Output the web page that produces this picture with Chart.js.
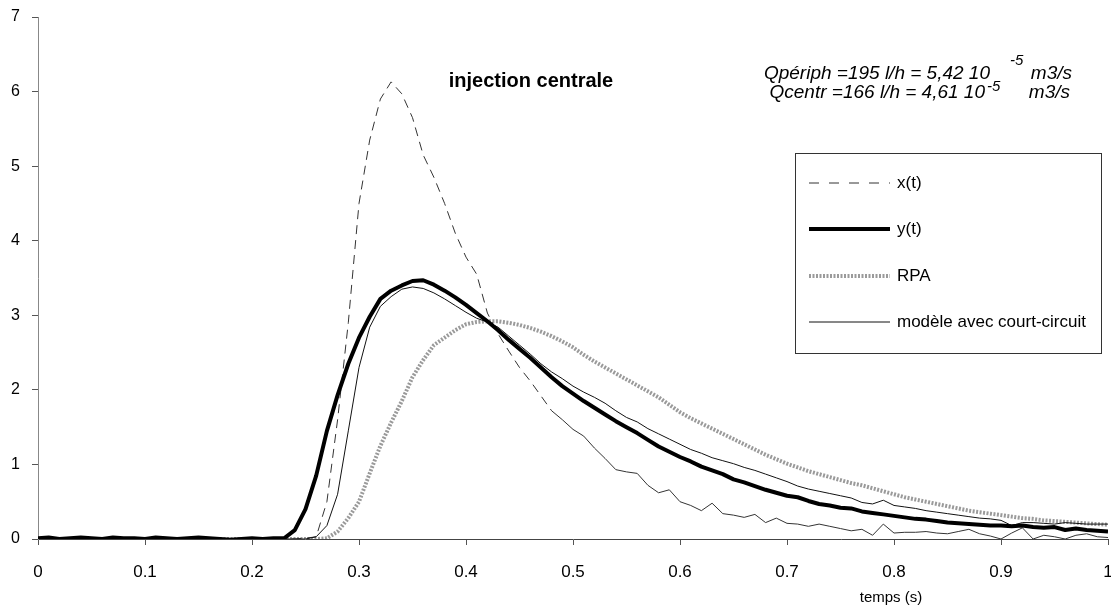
<!DOCTYPE html>
<html>
<head>
<meta charset="utf-8">
<script src="https://cdn.jsdelivr.net/npm/chart.js@4.4.1/dist/chart.umd.min.js"></script>
<style>
  html, body { margin: 0; padding: 0; background: #fff; }
  #c { display: block; }
</style>
</head>
<body>
<canvas id="c" width="1111" height="611"></canvas>
<script>
// time axis (s)
const temps = [
  0.00, 0.01, 0.02, 0.03, 0.04, 0.05, 0.06, 0.07, 0.08, 0.09,
  0.10, 0.11, 0.12, 0.13, 0.14, 0.15, 0.16, 0.17, 0.18, 0.19,
  0.20, 0.21, 0.22, 0.23, 0.24, 0.25, 0.26, 0.27, 0.28, 0.29,
  0.30, 0.31, 0.32, 0.33, 0.34, 0.35, 0.36, 0.37, 0.38, 0.39,
  0.40, 0.41, 0.42, 0.43, 0.44, 0.45, 0.46, 0.47, 0.48, 0.49,
  0.50, 0.51, 0.52, 0.53, 0.54, 0.55, 0.56, 0.57, 0.58, 0.59,
  0.60, 0.61, 0.62, 0.63, 0.64, 0.65, 0.66, 0.67, 0.68, 0.69,
  0.70, 0.71, 0.72, 0.73, 0.74, 0.75, 0.76, 0.77, 0.78, 0.79,
  0.80, 0.81, 0.82, 0.83, 0.84, 0.85, 0.86, 0.87, 0.88, 0.89,
  0.90, 0.91, 0.92, 0.93, 0.94, 0.95, 0.96, 0.97, 0.98, 0.99,
  1.00
];

// x(t) - signal d'entree
const xt = [
  0.02, 0.01, 0.00, 0.01, 0.00, 0.01, 0.02, 0.00, 0.01, 0.00,
  0.01, 0.00, 0.01, 0.02, 0.00, 0.01, 0.00, 0.01, 0.00, 0.01,
  0.00, 0.01, 0.00, 0.01, 0.00, 0.01, 0.03, 0.50, 1.60, 2.90,
  4.50, 5.35, 5.90, 6.13, 5.97, 5.65, 5.15, 4.85, 4.50, 4.10,
  3.78, 3.55, 3.03, 2.75, 2.52, 2.30, 2.12, 1.92, 1.72, 1.60,
  1.47, 1.38, 1.22, 1.08, 0.93, 0.90, 0.88, 0.72, 0.62, 0.66,
  0.50, 0.45, 0.38, 0.48, 0.34, 0.32, 0.29, 0.33, 0.22, 0.28,
  0.21, 0.20, 0.17, 0.20, 0.17, 0.14, 0.11, 0.13, 0.05, 0.20,
  0.08, 0.09, 0.09, 0.10, 0.08, 0.07, 0.10, 0.13, 0.07, 0.04,
  0.00, 0.08, 0.15, 0.00, 0.05, 0.03, 0.00, 0.05, 0.07, 0.03,
  0.02
];

// y(t) - signal de sortie
const yt = [
  0.01, 0.02, 0.00, 0.01, 0.02, 0.01, 0.00, 0.02, 0.01, 0.01,
  0.00, 0.02, 0.01, 0.00, 0.01, 0.02, 0.01, 0.00, -0.01, 0.00,
  0.01, 0.00, 0.01, 0.01, 0.12, 0.40, 0.85, 1.45, 1.93, 2.35,
  2.70, 2.98, 3.22, 3.33, 3.40, 3.46, 3.47, 3.41, 3.33, 3.24,
  3.14, 3.03, 2.92, 2.80, 2.67, 2.55, 2.43, 2.30, 2.17, 2.05,
  1.95, 1.85, 1.76, 1.67, 1.58, 1.50, 1.42, 1.33, 1.24, 1.17,
  1.10, 1.04, 0.97, 0.92, 0.87, 0.80, 0.76, 0.71, 0.66, 0.62,
  0.58, 0.56, 0.51, 0.47, 0.45, 0.42, 0.41, 0.37, 0.35, 0.33,
  0.31, 0.29, 0.27, 0.26, 0.24, 0.22, 0.21, 0.20, 0.19, 0.18,
  0.18, 0.17, 0.18, 0.16, 0.15, 0.16, 0.12, 0.14, 0.12, 0.11,
  0.10
];

// RPA
const rpa = [
  0.00, 0.00, 0.00, 0.00, 0.00, 0.00, 0.00, 0.00, 0.00, 0.00,
  0.00, 0.00, 0.00, 0.00, 0.00, 0.00, 0.00, 0.00, 0.00, 0.00,
  0.00, 0.00, 0.00, 0.00, 0.00, 0.00, 0.00, 0.01, 0.10, 0.28,
  0.50, 0.88, 1.25, 1.56, 1.85, 2.17, 2.40, 2.60, 2.70, 2.80,
  2.88, 2.91, 2.92, 2.92, 2.90, 2.87, 2.83, 2.78, 2.72, 2.65,
  2.57, 2.47, 2.38, 2.30, 2.22, 2.14, 2.06, 1.98, 1.90, 1.80,
  1.70, 1.62, 1.55, 1.48, 1.41, 1.34, 1.27, 1.20, 1.13, 1.07,
  1.01, 0.96, 0.91, 0.87, 0.83, 0.79, 0.75, 0.72, 0.68, 0.64,
  0.60, 0.56, 0.53, 0.50, 0.47, 0.44, 0.41, 0.38, 0.36, 0.34,
  0.32, 0.30, 0.28, 0.27, 0.25, 0.24, 0.23, 0.22, 0.21, 0.20,
  0.19
];

// modele avec court-circuit
const modele = [
  0.00, 0.00, 0.00, 0.00, 0.00, 0.00, 0.00, 0.00, 0.00, 0.00,
  0.00, 0.00, 0.00, 0.00, 0.00, 0.00, 0.00, 0.00, 0.00, 0.00,
  0.00, 0.00, 0.00, 0.00, 0.00, 0.00, 0.03, 0.18, 0.60, 1.45,
  2.30, 2.84, 3.12, 3.25, 3.35, 3.38, 3.36, 3.30, 3.22, 3.13,
  3.04, 2.96, 2.91, 2.84, 2.72, 2.60, 2.48, 2.35, 2.24, 2.15,
  2.05, 1.97, 1.90, 1.82, 1.72, 1.63, 1.57, 1.48, 1.41, 1.34,
  1.27, 1.20, 1.15, 1.09, 1.05, 1.01, 0.96, 0.92, 0.87, 0.82,
  0.77, 0.71, 0.67, 0.64, 0.61, 0.58, 0.55, 0.49, 0.47, 0.52,
  0.45, 0.43, 0.41, 0.38, 0.36, 0.34, 0.32, 0.30, 0.28, 0.27,
  0.25, 0.18, 0.22, 0.22, 0.21, 0.20, 0.22, 0.21, 0.20, 0.20,
  0.20
];

const yTicks = [0, 1, 2, 3, 4, 5, 6, 7];
const xTicks = ['0', '0.1', '0.2', '0.3', '0.4', '0.5', '0.6', '0.7', '0.8', '0.9', '1'];

const legendLabels = ['x(t)', 'y(t)', 'RPA', 'modèle avec court-circuit'];

const FONT = 'Arial, "Liberation Sans", sans-serif';

function pts(vals) {
  return temps.map((t, i) => ({ x: t, y: vals[i] }));
}

// styles
const styles = [
  { color: '#333', width: 1, dash: [9, 6] },
  { color: '#000', width: 4, dash: [] },
  { color: '#9a9a9a', width: 4, dash: [2, 1.5] },
  { color: '#111', width: 1, dash: [] }
];

// legend box + texts drawn on top
const annotations = {
  id: 'annotations',
  afterDraw(chart) {
    const ctx = chart.ctx;
    ctx.save();

    // legend box
    ctx.strokeStyle = '#333';
    ctx.lineWidth = 1;
    ctx.setLineDash([]);
    ctx.strokeRect(795.5, 153.5, 306, 200);
    const rows = [183, 229, 276, 322];
    legendLabels.forEach((lab, i) => {
      const s = styles[i];
      ctx.beginPath();
      ctx.strokeStyle = s.color;
      ctx.lineWidth = s.width;
      ctx.setLineDash(i === 0 ? [10, 10] : s.dash);
      ctx.moveTo(809, rows[i]);
      ctx.lineTo(890, rows[i]);
      ctx.stroke();
      ctx.setLineDash([]);
      ctx.fillStyle = '#000';
      ctx.font = '17px ' + FONT;
      ctx.textBaseline = 'middle';
      ctx.textAlign = 'left';
      ctx.fillText(lab, 897, rows[i]);
    });

    // title in plot
    ctx.font = 'bold 20px ' + FONT;
    ctx.textAlign = 'center';
    ctx.textBaseline = 'alphabetic';
    ctx.fillStyle = '#000';
    ctx.fillText('injection centrale', 531, 87);

    // debit lines: main text, raised exponent, unit
    function flowLine(main, mainRight, supLeft, baseline, supRaise, unitRight) {
      ctx.font = 'italic 19px ' + FONT;
      ctx.textAlign = 'right';
      ctx.fillText(main, mainRight, baseline);
      ctx.fillText('m3/s', unitRight, baseline);
      ctx.font = 'italic 15px ' + FONT;
      ctx.textAlign = 'left';
      ctx.fillText('-5', supLeft, baseline - supRaise);
    }
    flowLine('Qpériph =195 l/h = 5,42 10', 990, 1010, 79, 14, 1072);
    flowLine('Qcentr =166 l/h = 4,61 10', 985, 987, 98, 7, 1070);

    // axis title
    ctx.font = '15px ' + FONT;
    ctx.textAlign = 'center';
    ctx.fillText('temps (s)', 891, 602);

    ctx.restore();
  }
};

new Chart(document.getElementById('c'), {
  type: 'line',
  data: {
    datasets: [
      {
        label: legendLabels[1], data: pts(yt), order: 1,
        borderColor: styles[1].color, borderWidth: styles[1].width
      },
      {
        label: legendLabels[3], data: pts(modele), order: 2,
        borderColor: styles[3].color, borderWidth: styles[3].width
      },
      {
        label: legendLabels[0], data: pts(xt), order: 3,
        borderColor: styles[0].color, borderWidth: styles[0].width,
        segment: {
          borderDash: c => (c.p0.parsed.x < 0.475 ? styles[0].dash : [])
        }
      },
      {
        label: legendLabels[2], data: pts(rpa), order: 4,
        borderColor: styles[2].color, borderWidth: styles[2].width,
        borderDash: styles[2].dash
      }
    ]
  },
  options: {
    responsive: false,
    animation: false,
    layout: { padding: { top: 17, right: 3, left: 0, bottom: 0 } },
    elements: {
      point: { radius: 0 },
      line: { tension: 0, fill: false, borderJoinStyle: 'round', borderCapStyle: 'butt' }
    },
    plugins: {
      legend: { display: false },
      tooltip: { enabled: false },
      title: { display: false }
    },
    scales: {
      x: {
        type: 'linear',
        min: 0, max: 1,
        afterFit: s => { s.height = 72; s.paddingLeft = 0; s.paddingRight = 0; },
        afterBuildTicks: s => { s.ticks = xTicks.map(v => ({ value: parseFloat(v) })); },
        ticks: {
          callback: (v, i) => xTicks[i],
          font: { family: FONT, size: 17 },
          color: '#000',
          padding: 17,
          maxRotation: 0,
          autoSkip: false
        },
        grid: { drawOnChartArea: false, tickLength: 6, color: '#555' },
        border: { color: '#444', width: 1 }
      },
      y: {
        min: 0, max: 7,
        afterFit: s => { s.width = 38; s.paddingTop = 0; s.paddingBottom = 0; },
        afterBuildTicks: s => { s.ticks = yTicks.map(v => ({ value: v })); },
        ticks: {
          callback: v => String(v),
          font: { family: FONT, size: 16 },
          color: '#000',
          padding: 12
        },
        grid: { drawOnChartArea: false, tickLength: 6, color: '#555' },
        border: { color: '#888', width: 1 }
      }
    }
  },
  plugins: [annotations]
});
</script>
</body>
</html>
